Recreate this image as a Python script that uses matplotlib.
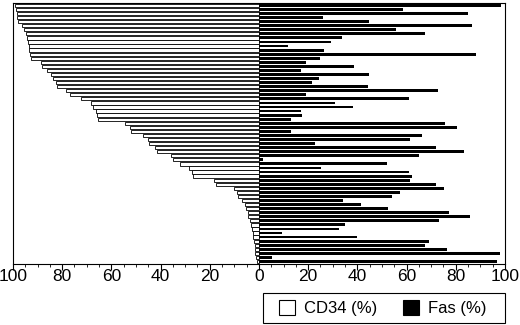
import matplotlib.pyplot as plt
from matplotlib.patches import Patch, Rectangle
from matplotlib.ticker import FixedLocator, FuncFormatter, MultipleLocator

# one row per patient, sorted by CD34 descending (top to bottom)
cd34 = [
    99.2, 98.8, 98.5, 98.2, 97.8, 96.5, 95.5, 94.7, 94.2, 93.8,
    93.5, 93.4, 93.1, 92.8, 88.7, 88.1, 86.3, 84.7, 83.9, 82.5,
    82.0, 78.5, 76.8, 72.5, 68.2, 67.3, 66.2, 65.7, 65.5, 54.5,
    52.4, 52.2, 47.3, 45.0, 44.6, 42.1, 41.6, 35.9, 35.1, 32.1,
    28.3, 27.4, 26.7, 18.3, 17.5, 10.0, 9.1, 8.4, 7.0, 5.7,
    5.3, 4.6, 4.3, 3.7, 3.3, 2.8, 2.6, 2.3, 2.0, 1.8,
    1.6, 1.5, 1.2, 0.9,
]
fas = [
    98.6, 58.7, 85.0, 26.0, 44.7, 86.7, 55.6, 67.7, 33.9, 29.3,
    11.7, 26.3, 88.3, 25.0, 19.2, 38.8, 17.0, 44.8, 24.5, 21.5,
    44.4, 72.6, 19.0, 61.0, 30.8, 38.3, 17.0, 17.4, 13.1, 75.5,
    80.5, 13.1, 66.1, 61.4, 22.9, 71.8, 83.3, 64.9, 1.8, 52.2,
    25.3, 61.1, 62.2, 61.3, 72.0, 75.2, 57.2, 54.2, 34.3, 41.5,
    52.3, 77.1, 85.8, 73.0, 35.0, 32.6, 9.3, 40.0, 69.1, 67.4,
    76.3, 97.8, 5.2, 96.6,
]
ticks = [-100, -80, -60, -40, -20, 0, 20, 40, 60, 80, 100]

plt.rcParams["font.family"] = ["Liberation Sans", "DejaVu Sans"]

fig = plt.figure(figsize=(5.2, 3.25), dpi=100)
ax = fig.add_axes([0.025, 0.188, 0.946, 0.803])

rows = list(range(len(cd34)))
ax.barh(rows, [-v for v in cd34], height=0.8, color="white",
        edgecolor="black", linewidth=0.6)
ax.barh(rows, fas, height=0.7, color="black", linewidth=0)

ax.set_xlim(-100, 100)
ax.set_ylim(len(cd34) - 0.4, -0.6)
ax.set_yticks([])
ax.xaxis.set_major_locator(FixedLocator(ticks))
ax.xaxis.set_minor_locator(MultipleLocator(5))
ax.xaxis.set_major_formatter(FuncFormatter(lambda v, _: f"{abs(v):.0f}"))
ax.tick_params(axis="x", which="major", length=4.5, width=0.8,
               pad=-0.5, labelsize=12.5)
ax.tick_params(axis="x", which="minor", length=2.2, width=0.6)
for spine in ax.spines.values():
    spine.set_linewidth(0.8)

handles = [
    Patch(facecolor="white", edgecolor="black", linewidth=0.8, label="CD34 (%)"),
    Patch(facecolor="black", edgecolor="black", linewidth=0.8, label="Fas (%)"),
]
fig.legend(handles=handles, loc="center", ncol=2,
           bbox_to_anchor=(0.736, 0.052), frameon=False,
           fontsize=12, handlelength=1.0, handleheight=1.0,
           handletextpad=0.55, columnspacing=1.5, borderpad=0.2)
fig.patches.append(Rectangle((0.506, 0.006), 0.465, 0.092,
                             transform=fig.transFigure, fill=False,
                             edgecolor="black", linewidth=0.8))

fig.savefig("out.png", dpi=100)
